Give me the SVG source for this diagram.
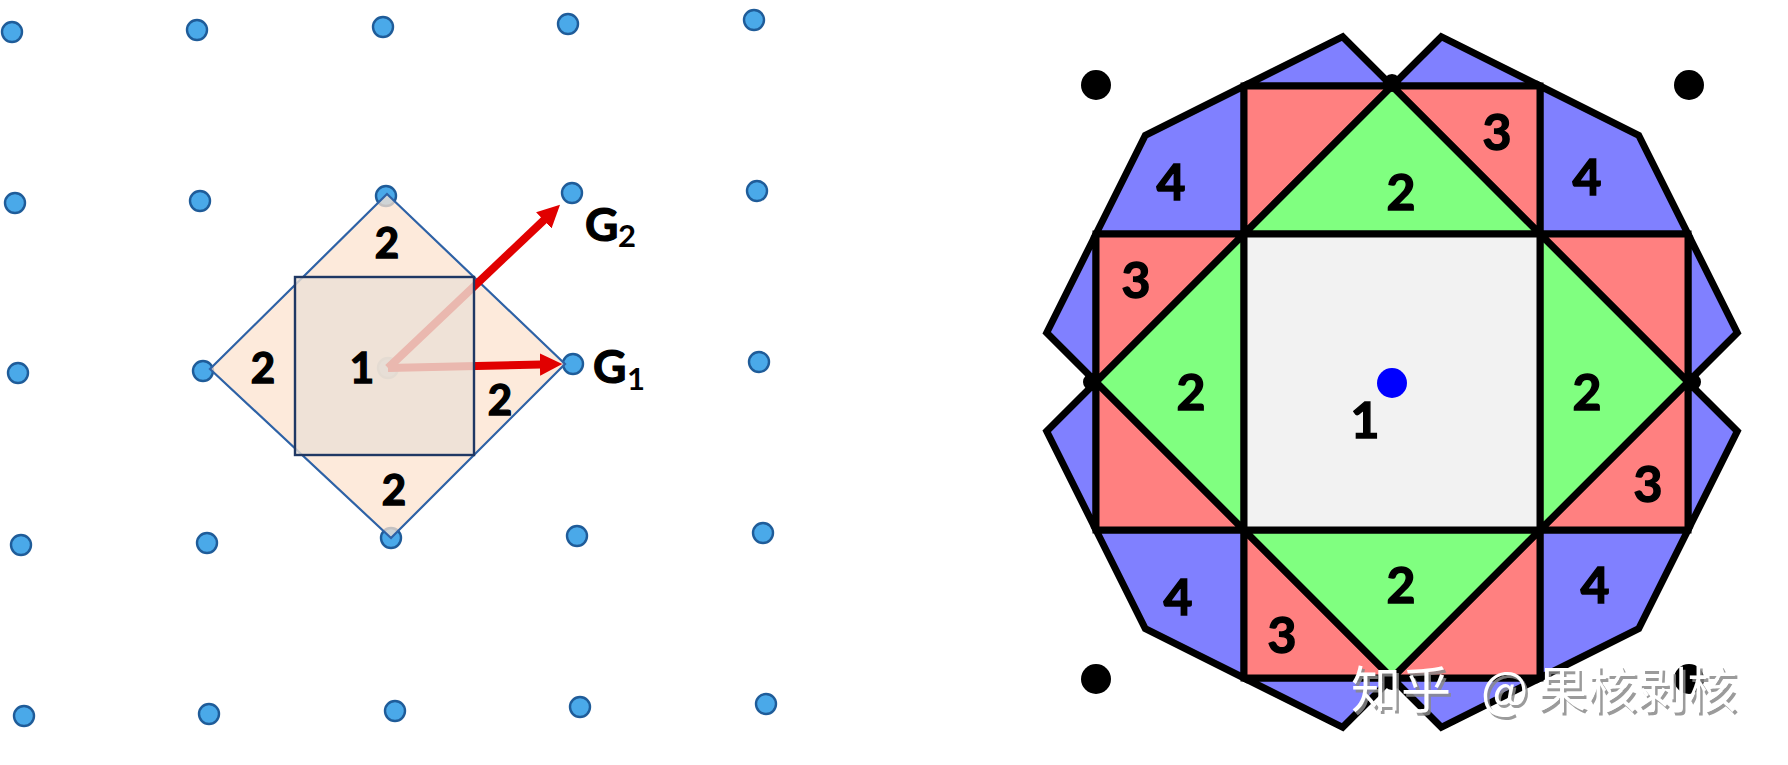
<svg xmlns="http://www.w3.org/2000/svg" width="1788" height="765" viewBox="0 0 1788 765">
<defs>
<style>
.lat{fill:#4aa9e9;stroke:#1f5c99;stroke-width:2.4}
.num{font-family:Lato,"Liberation Sans",sans-serif;font-weight:700;fill:#000;text-anchor:middle;stroke:#000;stroke-width:1.4}
.lnum{font-size:42px}
.rnum{font-size:50px}
.g{font-family:Lato,"Liberation Sans",sans-serif;font-weight:700;fill:#000}
.bz{stroke:#000;stroke-width:7;stroke-linejoin:miter}
.z1{fill:#f2f2f2}
.z2{fill:#80ff80}
.z3{fill:#ff8080}
.z4{fill:#8080ff}
.blk{fill:#000}
.wm{font-family:"Noto Sans CJK SC",sans-serif;font-size:50px}
</style>
<marker id="head" viewBox="0 0 10 10" refX="0.5" refY="5" markerWidth="2.8" markerHeight="3" orient="auto">
<path d="M0,0 L10,5 L0,10 z" fill="#e10000"/>
</marker>
</defs>
<rect width="1788" height="765" fill="#ffffff"/>

<!-- LEFT PANEL -->
<g id="lattice">
<circle class="lat" cx="12" cy="32" r="10"/><circle class="lat" cx="197" cy="30" r="10"/><circle class="lat" cx="383" cy="27" r="10"/><circle class="lat" cx="568" cy="24" r="10"/><circle class="lat" cx="754" cy="20" r="10"/>
<circle class="lat" cx="15" cy="203" r="10"/><circle class="lat" cx="200" cy="201" r="10"/><circle class="lat" cx="386" cy="196" r="10"/><circle class="lat" cx="572" cy="193" r="10"/><circle class="lat" cx="757" cy="191" r="10"/>
<circle class="lat" cx="18" cy="373" r="10"/><circle class="lat" cx="203" cy="371" r="10"/><circle class="lat" cx="388" cy="368" r="10"/><circle class="lat" cx="573" cy="364" r="10"/><circle class="lat" cx="759" cy="362" r="10"/>
<circle class="lat" cx="21" cy="545" r="10"/><circle class="lat" cx="207" cy="543" r="10"/><circle class="lat" cx="391" cy="538" r="10"/><circle class="lat" cx="577" cy="536" r="10"/><circle class="lat" cx="763" cy="533" r="10"/>
<circle class="lat" cx="24" cy="716" r="10"/><circle class="lat" cx="209" cy="714" r="10"/><circle class="lat" cx="395" cy="711" r="10"/><circle class="lat" cx="580" cy="707" r="10"/><circle class="lat" cx="766" cy="704" r="10"/>
</g>
<g id="zone2-diamond">
<polygon points="387,194 565,364 391,538 210,369" fill="#fce3cf" fill-opacity="0.75" stroke="#2e62a6" stroke-width="2.2"/>
</g>
<g id="connectors">
<line x1="388" y1="368" x2="541" y2="364.5" stroke="#e10000" stroke-width="8" marker-end="url(#head)"/>
<line x1="388" y1="368" x2="544.6" y2="219.5" stroke="#e10000" stroke-width="8" marker-end="url(#head)"/>
</g>
<g id="zone1-square">
<rect x="295" y="277" width="179" height="178" fill="#ece1d6" fill-opacity="0.82" stroke="#1f3864" stroke-width="2.4"/>
</g>
<g id="left-labels">
<text class="num lnum" x="387" y="258">2</text>
<text class="num lnum" x="263" y="383">2</text>
<text class="num lnum" x="500" y="415">2</text>
<text class="num lnum" x="394" y="505">2</text>
<text class="num lnum" x="362" y="383">1</text>
</g>
<g id="label-G1">
<text class="g" x="593" y="383" font-size="46" stroke="#000" stroke-width="1.2">G</text>
<text class="g" x="627" y="390" font-size="31">1</text>
</g>
<g id="label-G2">
<text class="g" x="585" y="241" font-size="46" stroke="#000" stroke-width="1.2">G</text>
<text class="g" x="618" y="247" font-size="31">2</text>
</g>

<!-- RIGHT PANEL -->
<g id="zone4">
<polygon class="bz z4" points="1244,86 1244,234 1096,234 1145.3,135.3"/>
<polygon class="bz z4" points="1540,86 1638.7,135.3 1688,234 1540,234"/>
<polygon class="bz z4" points="1096,530 1244,530 1244,678 1145.3,628.7"/>
<polygon class="bz z4" points="1540,530 1688,530 1638.7,628.7 1540,678"/>
<polygon class="bz z4" points="1244,86 1342.7,36.7 1392,86"/>
<polygon class="bz z4" points="1392,86 1441.3,36.7 1540,86"/>
<polygon class="bz z4" points="1244,678 1342.7,727.3 1392,678"/>
<polygon class="bz z4" points="1392,678 1441.3,727.3 1540,678"/>
<polygon class="bz z4" points="1096,234 1046.7,332.7 1096,382"/>
<polygon class="bz z4" points="1096,382 1046.7,431.3 1096,530"/>
<polygon class="bz z4" points="1688,234 1737.3,332.7 1688,382"/>
<polygon class="bz z4" points="1688,382 1737.3,431.3 1688,530"/>
</g>
<g id="zone3">
<polygon class="bz z3" points="1244,86 1392,86 1244,234"/>
<polygon class="bz z3" points="1392,86 1540,86 1540,234"/>
<polygon class="bz z3" points="1244,530 1392,678 1244,678"/>
<polygon class="bz z3" points="1540,530 1540,678 1392,678"/>
<polygon class="bz z3" points="1096,234 1244,234 1096,382"/>
<polygon class="bz z3" points="1096,382 1244,530 1096,530"/>
<polygon class="bz z3" points="1540,234 1688,234 1688,382"/>
<polygon class="bz z3" points="1688,382 1688,530 1540,530"/>
</g>
<g id="zone2">
<polygon class="bz z2" points="1244,234 1540,234 1392,86"/>
<polygon class="bz z2" points="1244,530 1540,530 1392,678"/>
<polygon class="bz z2" points="1244,234 1244,530 1096,382"/>
<polygon class="bz z2" points="1540,234 1540,530 1688,382"/>
</g>
<g id="zone1">
<rect class="bz z1" x="1244" y="234" width="296" height="296"/>
</g>
<g id="recip-points">
<circle class="blk" cx="1096" cy="85" r="15"/>
<circle class="blk" cx="1689" cy="85" r="15"/>
<circle class="blk" cx="1096" cy="679" r="15"/>
<circle class="blk" cx="1689" cy="679" r="15"/>
<circle class="blk" cx="1392" cy="83" r="9"/>
<circle class="blk" cx="1392" cy="681" r="9"/>
<circle class="blk" cx="1092" cy="382" r="9"/>
<circle class="blk" cx="1692" cy="382" r="9"/>
<circle cx="1392" cy="383" r="15" fill="#0000ff"/>
</g>
<g id="right-labels">
<text class="num rnum" x="1171" y="200">4</text>
<text class="num rnum" x="1401" y="210">2</text>
<text class="num rnum" x="1497" y="150">3</text>
<text class="num rnum" x="1587" y="195">4</text>
<text class="num rnum" x="1136" y="298">3</text>
<text class="num rnum" x="1191" y="410">2</text>
<text class="num rnum" x="1587" y="410">2</text>
<text class="num rnum" x="1365" y="438">1</text>
<text class="num rnum" x="1648" y="502">3</text>
<text class="num rnum" x="1178" y="615">4</text>
<text class="num rnum" x="1282" y="653">3</text>
<text class="num rnum" x="1401" y="603">2</text>
<text class="num rnum" x="1595" y="603">4</text>
</g>
<g id="watermark">
<text class="wm" fill="#8a8a8a" fill-opacity="0.85"><tspan x="1353.5" y="710.5">知乎</tspan><tspan x="1483.5" y="710.5">@</tspan><tspan x="1539.5" y="710.5">果核剥核</tspan></text>
<text class="wm" fill="#ffffff"><tspan x="1351" y="708">知乎</tspan><tspan x="1481" y="708">@</tspan><tspan x="1537" y="708">果核剥核</tspan></text>
</g>
</svg>
